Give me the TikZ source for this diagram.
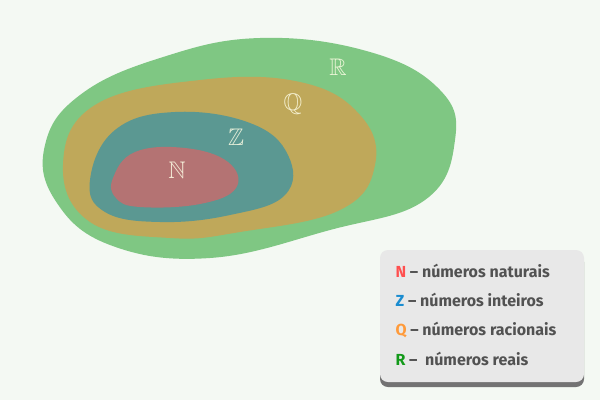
\documentclass[tikz,border=0pt]{standalone}
\usepackage{amssymb}
\usepackage{fontspec}
\setmainfont{Fira Sans}
\begin{document}
\begin{tikzpicture}[x=1pt,y=-1pt,
 lbl/.style={text=white!90!yellow,opacity=0.85,font=\fontsize{24}{26}\selectfont},
 leg/.style={anchor=west,text=black!68,font=\fontsize{16}{18}\selectfont\bfseries}]
\definecolor{bg}{HTML}{F4F9F3}
\definecolor{cR}{HTML}{7FC783}
\definecolor{cQ}{HTML}{BFA85A}
\definecolor{cZ}{HTML}{5B9892}
\definecolor{cN}{HTML}{B47373}
\fill[bg] (0,0) rectangle (600,400);
\useasboundingbox (0,0) rectangle (600,400);
\fill[cR] plot[smooth cycle,tension=0.7] coordinates{(45,145) (80,95) (160,58) (260,38) (370,52) (440,90) (455,140) (425,200) (330,230) (210,258) (110,245) (55,200)};
\fill[cQ] plot[smooth cycle,tension=0.7] coordinates{(63,165) (95,105) (200,80) (300,82) (360,115) (375,165) (340,210) (240,232) (170,238) (90,222)};
\fill[cZ] plot[smooth cycle,tension=0.7] coordinates{(90,180) (115,130) (175,112) (250,123) (288,155) (285,195) (230,215) (160,222) (105,212)};
\fill[cN] plot[smooth cycle,tension=0.7] coordinates{(113,178) (135,152) (185,148) (228,162) (236,188) (200,204) (140,207) (116,198)};
\node[lbl] (n) at (177,170) {$\mathbb{N}$};
\node[lbl] (z) at (236,137) {$\mathbb{Z}$};
\node[lbl] (q) at (293,104) {$\mathbb{Q}$};
\node[lbl] (r) at (338,67) {$\mathbb{R}$};
\fill[black!55,rounded corners=8pt] (380,254) rectangle (584,387);
\fill[black!9,rounded corners=8pt] (380,250) rectangle (584,382);
\node[leg] (l1) at (392,271) {\textcolor[HTML]{FF4F4F}{N} – números naturais};
\node[leg] (l2) at (392,300) {\textcolor[HTML]{1A8CD0}{Z} – números inteiros};
\node[leg] (l3) at (392,330) {\textcolor[HTML]{FF9A3A}{Q} – números racionais};
\node[leg] (l4) at (392,359) {\textcolor[HTML]{139A1A}{R} –\ \ números reais};
\end{tikzpicture}
\end{document}
